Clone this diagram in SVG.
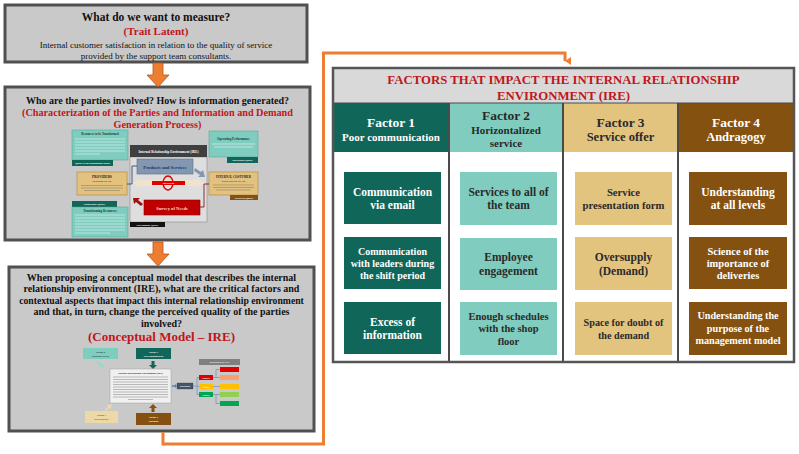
<svg xmlns="http://www.w3.org/2000/svg" width="799" height="454" viewBox="0 0 799 454">
<style>
text{font-family:"Liberation Serif","Times New Roman",serif;text-anchor:middle}
.panel{fill:#c9c9c9;stroke:#505050;stroke-width:3}
.q{font-size:10px;font-weight:bold;fill:#111}
.red{font-weight:bold;fill:#c0161c}
.reg{font-size:9px;fill:#111}
.blk{fill:#ed7d31;stroke:#b5581c;stroke-width:0.8}
.conn{fill:none;stroke:#ed7d31;stroke-width:3}
.f1{fill:#11665a}.f2{fill:#80ccbe}.f3{fill:#e3c47f}.f4{fill:#845110}
.hw{font-weight:bold;fill:#fff}.hd{font-weight:bold;fill:#2a2a2a}
.div{stroke:#4a4a4a;stroke-width:2}
.tl{stroke:#fff;stroke-width:0.6;opacity:0.8}
.dl{stroke:#666;stroke-width:0.5;opacity:0.8}
.tiny{font-family:"Liberation Serif",serif;font-weight:bold}
</style>
<defs>
<marker id="ah" markerWidth="8" markerHeight="8" refX="4" refY="6" orient="auto" markerUnits="userSpaceOnUse" viewBox="0 0 8 8">
<path d="M0,0 L8,0 L4,6 Z" fill="#ed7d31"/>
</marker>
</defs>

<!-- Panel 1 -->
<g id="box-measure">
<rect class="panel" x="5" y="5" width="302" height="57"/>
<text x="156" y="21" class="q" style="font-size:11.5px">What do we want to measure?</text>
<text x="156" y="35" class="red" style="font-size:11px">(Trait Latent)</text>
<text x="156" y="48" class="reg">Internal customer satisfaction in relation to the quality of service</text>
<text x="156" y="58.5" class="reg">provided by the support team consultants.</text>
</g>

<!-- Panel 2 -->
<g id="box-parties">
<rect class="panel" x="5" y="87" width="305" height="153"/>
<text x="157.5" y="104" class="q">Who are the parties involved? How is information generated?</text>
<text x="157.5" y="116" class="red" style="font-size:10.2px">(Characterization  of the Parties and Information and Demand</text>
<text x="157.5" y="128" class="red" style="font-size:10.2px">Generation Process)</text>
<!-- thumbnail -->
<g id="thumb-ire">
<rect x="72" y="130" width="56" height="30" fill="#7fcdbf" stroke="#4f9e91" stroke-width="0.5"/>
<text x="100" y="135" class="tiny" style="font-size:3px" fill="#1a3d36">Resources to be Transformed</text>
<line class="tl" x1="75" y1="139" x2="125" y2="139"/><line class="tl" x1="75" y1="142" x2="125" y2="142"/><line class="tl" x1="75" y1="145" x2="125" y2="145"/><line class="tl" x1="75" y1="148" x2="125" y2="148"/><line class="tl" x1="75" y1="151" x2="125" y2="151"/><line class="tl" x1="75" y1="154" x2="100" y2="154"/>
<rect x="72" y="160" width="41" height="6" fill="#11665a"/>
<text x="92.5" y="164" class="tiny" style="font-size:2.4px" fill="#fff">Quality of the Management Model</text>

<rect x="209" y="131" width="49" height="26" fill="#7fcdbf" stroke="#4f9e91" stroke-width="0.5"/>
<text x="233.5" y="140" class="tiny" style="font-size:3.2px" fill="#1a3d36">Operating Performance</text>
<line class="tl" x1="212" y1="144" x2="255" y2="144"/><line class="tl" x1="214" y1="147" x2="253" y2="147"/>
<rect x="227" y="157" width="31" height="6" fill="#11665a"/>
<text x="242.5" y="161" class="tiny" style="font-size:2.4px" fill="#fff">Operational Quality</text>

<rect x="130" y="157" width="77" height="65" fill="#dedede" stroke="#8a8a8a" stroke-width="0.6"/>
<rect x="130" y="145" width="77" height="12" fill="#3f3f3f"/>
<text x="168.5" y="152.5" class="tiny" style="font-size:3.4px" fill="#fff">Internal Relationship Environment (IRE)</text>
<rect x="130" y="222" width="35" height="5" fill="#111"/>
<text x="147.5" y="225.6" class="tiny" style="font-size:2.4px" fill="#fff">Environment Quality</text>

<polygon points="133,183 140,178 140,180 197,180 197,178 204,183 197,188 197,186 140,186 140,188" fill="#efe3cd"/>
<rect x="137" y="159" width="56" height="15" fill="#8497b0" stroke="#5a6d8a" stroke-width="0.6"/>
<text x="165" y="168.5" class="tiny" style="font-size:4.6px" fill="#1f3864">Products and Services</text>
<ellipse cx="168" cy="183" rx="5" ry="7" fill="none" stroke="#e00000" stroke-width="1.4"/>
<rect x="152" y="181" width="33" height="4" fill="#e00000"/>
<text x="168.5" y="184" class="tiny" style="font-size:2.4px" fill="#fff">Interaction</text>
<rect x="144" y="200" width="56" height="15" fill="#c00000" stroke="#8a0000" stroke-width="0.6"/>
<text x="172" y="209.5" class="tiny" style="font-size:4.6px" fill="#f2dcdb">Survey of Needs</text>
<polygon points="195,168 201,172 203,170 205,177 198,177 200,175 194,171" fill="#8497b0"/>
<polygon points="133,198 140,198 138,200 143,204 141,206 136,202 134,204" fill="#a01010"/>

<rect x="77" y="172" width="50" height="23" fill="#e2c27e" stroke="#a8853e" stroke-width="0.6"/>
<text x="102" y="178" class="tiny" style="font-size:3.4px" fill="#222">PROVIDERS</text>
<text x="102" y="182" class="tiny" style="font-size:2.4px" fill="#c00000">SUPPORT TEAM</text>
<line class="dl" x1="81" y1="185.5" x2="123" y2="185.5"/><line class="dl" x1="81" y1="188" x2="123" y2="188"/><line class="dl" x1="84" y1="190.5" x2="120" y2="190.5"/>

<rect x="209" y="172" width="49" height="23" fill="#e2c27e" stroke="#a8853e" stroke-width="0.6"/>
<text x="233.5" y="177.5" class="tiny" style="font-size:3.1px" fill="#222">INTERNAL COSTUMER</text>
<text x="233.5" y="181.5" class="tiny" style="font-size:2.4px" fill="#c00000">OPERATIONS TEAM</text>
<line class="dl" x1="213" y1="185" x2="254" y2="185"/><line class="dl" x1="213" y1="187.5" x2="254" y2="187.5"/><line class="dl" x1="216" y1="190" x2="251" y2="190"/>
<rect x="230" y="195" width="28" height="5" fill="#845110"/>
<text x="244" y="198.6" class="tiny" style="font-size:2.4px" fill="#fff">Perceived Quality</text>

<rect x="72" y="201" width="45" height="6" fill="#11665a"/>
<text x="94.5" y="205" class="tiny" style="font-size:2.4px" fill="#fff">Transformer Quality</text>
<rect x="72" y="207" width="56" height="30" fill="#7fcdbf" stroke="#4f9e91" stroke-width="0.5"/>
<text x="100" y="211.5" class="tiny" style="font-size:3.2px" fill="#1a3d36">Transforming Resources</text>
<line class="tl" x1="75" y1="215" x2="125" y2="215"/><line class="tl" x1="75" y1="218" x2="125" y2="218"/><line class="tl" x1="75" y1="221" x2="125" y2="221"/><line class="tl" x1="75" y1="224" x2="125" y2="224"/><line class="tl" x1="75" y1="227" x2="125" y2="227"/><line class="tl" x1="75" y1="230" x2="125" y2="230"/><line class="tl" x1="75" y1="233" x2="110" y2="233"/>

<polyline points="127,184 132,184 132,166 137,166" fill="none" stroke="#1f3864" stroke-width="0.8"/>
<polyline points="200,207 204,207 204,184 209,184" fill="none" stroke="#7b0000" stroke-width="0.8"/>
</g>
</g>

<!-- Panel 3 -->
<g id="box-model">
<rect class="panel" x="9" y="267" width="305" height="164"/>
<text x="161.5" y="280.5" class="q">When proposing a conceptual model that describes the internal</text>
<text x="161.5" y="292" class="q">relationship environment (IRE), what are the critical factors and</text>
<text x="161.5" y="303.5" class="q" style="font-size:9.7px">contextual aspects that impact this internal relationship environment</text>
<text x="161.5" y="315" class="q">and that, in turn, change the perceived quality of the parties</text>
<text x="161.5" y="327" class="q">involved?</text>
<text x="161.5" y="341" class="red" style="font-size:13px">(Conceptual Model – IRE)</text>
<g id="thumb-model">
<rect x="83" y="348" width="35" height="11" fill="#7fcdbf"/>
<text x="100.5" y="352.8" class="tiny" style="font-size:2.6px" fill="#1a3d36">Factor 2</text>
<text x="100.5" y="356.5" class="tiny" style="font-size:2.2px" fill="#1a3d36">Horizontal service</text>
<rect x="136" y="348" width="35" height="11" fill="#11665a"/>
<text x="153.5" y="352.8" class="tiny" style="font-size:2.6px" fill="#fff">Factor 1</text>
<text x="153.5" y="356.5" class="tiny" style="font-size:2.2px" fill="#fff">Poor communication</text>
<polygon points="151.5,361 154.5,361 154.5,365 157,365 153,369 149,365 151.5,365" fill="#11665a"/>
<polygon points="96,360 101,364 102.5,362.5 104,368 98.5,366.5 100,365 95,361" fill="#9ad7cc"/>
<rect x="110" y="369" width="61" height="34" fill="#f0f0f0" stroke="#a0a0a0" stroke-width="0.5"/>
<text x="140.5" y="374" class="tiny" style="font-size:2.5px" fill="#222">Internal Relationship Environment (IRE)</text>
<line class="dl" x1="113" y1="377" x2="168" y2="377"/><line class="dl" x1="113" y1="379.5" x2="168" y2="379.5"/><line class="dl" x1="113" y1="382" x2="168" y2="382"/><line class="dl" x1="113" y1="384.5" x2="168" y2="384.5"/><line class="dl" x1="113" y1="387" x2="168" y2="387"/><line class="dl" x1="113" y1="389.5" x2="168" y2="389.5"/><line class="dl" x1="113" y1="392" x2="168" y2="392"/><line class="dl" x1="113" y1="394.5" x2="168" y2="394.5"/><line class="dl" x1="113" y1="397" x2="168" y2="397"/><line class="dl" x1="128" y1="399.5" x2="153" y2="399.5"/>
<polygon points="105,410 108,407 106.5,405.5 112,404 110.5,409.5 109,408 106,411" fill="#ecd9a6"/>
<rect x="85" y="411" width="33" height="12" fill="#ecd9a6"/>
<text x="101.5" y="416" class="tiny" style="font-size:2.6px" fill="#6b5320">Factor 3</text>
<text x="101.5" y="420" class="tiny" style="font-size:2.2px" fill="#6b5320">Service delivery</text>
<polygon points="151.5,412 154.5,412 154.5,408 157,408 153,404 149,408 151.5,408" fill="#845110"/>
<rect x="136" y="413" width="35" height="12" fill="#845110"/>
<text x="153.5" y="418" class="tiny" style="font-size:2.6px" fill="#fff">Factor 4</text>
<text x="153.5" y="422" class="tiny" style="font-size:2.2px" fill="#fff">Andragogy</text>
<polygon points="172,385.3 175,385.3 175,384 177,386 175,388 175,386.7 172,386.7" fill="#5b7bb5"/>
<rect x="177" y="383" width="16" height="6" fill="#44546a" stroke="#2b3a55" stroke-width="0.3"/>
<text x="185" y="387" class="tiny" style="font-size:2.2px" fill="#fff">Perception</text>
<rect x="199" y="359" width="41" height="6" fill="#7f7f7f"/>
<text x="219.5" y="363" class="tiny" style="font-size:2.2px" fill="#fff">RESPONSE SCALE</text>
<g fill="none" stroke="#4a7ab5" stroke-width="0.5">
<polyline points="193,386 197,386"/><polyline points="199,377.5 197,377.5 197,394.5 199,394.5"/><polyline points="197,386.5 199,386.5"/>
<polyline points="220,369.5 216,369.5 216,377.5 220,377.5"/><polyline points="213,377.5 216,377.5"/>
<polyline points="213,386.5 220,386.5"/>
<polyline points="220,394.5 216,394.5 216,403.5 220,403.5"/><polyline points="213,394.5 216,394.5"/>
</g>
<rect x="199" y="375" width="14" height="5" fill="#e00000"/>
<text x="206" y="378.5" class="tiny" style="font-size:2px" fill="#fff">Negative</text>
<rect x="199" y="384" width="14" height="5" fill="#ffc000"/>
<text x="206" y="387.5" class="tiny" style="font-size:2px" fill="#fff">Neutral</text>
<rect x="199" y="392" width="14" height="5" fill="#00a651"/>
<text x="206" y="395.5" class="tiny" style="font-size:2px" fill="#fff">Positive</text>
<rect x="220" y="367" width="19" height="5" fill="#e00000"/>
<rect x="220" y="375" width="19" height="5" fill="#f4a070"/>
<rect x="220" y="384" width="19" height="5" fill="#ffc000"/>
<rect x="220" y="392" width="19" height="5" fill="#92d050"/>
<rect x="220" y="401" width="19" height="5" fill="#00a651"/>
</g>
</g>

<!-- Factors table -->
<g id="table-factors">
<rect x="333" y="68" width="461" height="294" fill="#fff"/>
<rect x="333" y="68" width="461" height="35" fill="#d9d9d9"/>
<text x="563.5" y="83.5" class="red" style="font-size:12.8px">FACTORS THAT IMPACT THE INTERNAL RELATIONSHIP</text>
<text x="563.5" y="99.5" class="red" style="font-size:12.8px">ENVIRONMENT (IRE)</text>
</g>

<g id="factor1">
<rect class="f1" x="333" y="103" width="116" height="49"/>
<text x="391" y="126.5" class="hw" style="font-size:13.5px">Factor 1</text>
<text x="391" y="141" class="hw" style="font-size:11px">Poor communication</text>
<rect class="f1" x="344" y="172" width="97" height="52"/>
<text x="392.5" y="195.5" class="hw" style="font-size:11.5px">Communication</text>
<text x="392.5" y="209" class="hw" style="font-size:11.5px">via email</text>
<rect class="f1" x="344" y="237" width="97" height="52"/>
<text x="392.5" y="254.5" class="hw" style="font-size:10px">Communication</text>
<text x="392.5" y="266.5" class="hw" style="font-size:10px">with leaders during</text>
<text x="392.5" y="278.5" class="hw" style="font-size:10px">the shift period</text>
<rect class="f1" x="344" y="302" width="97" height="52"/>
<text x="392.5" y="325.5" class="hw" style="font-size:11.5px">Excess of</text>
<text x="392.5" y="339" class="hw" style="font-size:11.5px">information</text>
</g>

<g id="factor2">
<rect class="f2" x="449" y="103" width="114" height="49"/>
<text x="506" y="119.5" class="hd" style="font-size:13.5px">Factor 2</text>
<text x="506" y="134" class="hd" style="font-size:11px">Horizontalized</text>
<text x="506" y="147" class="hd" style="font-size:11px">service</text>
<rect class="f2" x="460" y="172" width="97" height="53"/>
<text x="508.5" y="195.5" class="hd" style="font-size:11.5px">Services to all of</text>
<text x="508.5" y="209" class="hd" style="font-size:11.5px">the team</text>
<rect class="f2" x="460" y="238" width="97" height="52"/>
<text x="508.5" y="261" class="hd" style="font-size:11.5px">Employee</text>
<text x="508.5" y="274.5" class="hd" style="font-size:11.5px">engagement</text>
<rect class="f2" x="460" y="302" width="97" height="53"/>
<text x="508.5" y="319.5" class="hd" style="font-size:10.5px">Enough schedules</text>
<text x="508.5" y="332" class="hd" style="font-size:10.5px">with the shop</text>
<text x="508.5" y="344.5" class="hd" style="font-size:10.5px">floor</text>
</g>

<g id="factor3">
<rect class="f3" x="563" y="103" width="115" height="49"/>
<text x="620.5" y="126.5" class="hd" style="font-size:13.5px">Factor 3</text>
<text x="620.5" y="141" class="hd" style="font-size:12.5px">Service offer</text>
<rect class="f3" x="575" y="172" width="97" height="53"/>
<text x="623.5" y="196" class="hd" style="font-size:10.7px">Service</text>
<text x="623.5" y="209" class="hd" style="font-size:10.7px">presentation form</text>
<rect class="f3" x="575" y="237" width="97" height="53"/>
<text x="623.5" y="261" class="hd" style="font-size:11.5px">Oversupply</text>
<text x="623.5" y="274.5" class="hd" style="font-size:11.5px">(Demand)</text>
<rect class="f3" x="575" y="302" width="97" height="53"/>
<text x="623.5" y="326" class="hd" style="font-size:10.2px">Space for doubt of</text>
<text x="623.5" y="338.5" class="hd" style="font-size:10.2px">the demand</text>
</g>

<g id="factor4">
<rect class="f4" x="678" y="103" width="116" height="49"/>
<text x="736" y="126.5" class="hw" style="font-size:13.5px">Factor 4</text>
<text x="736" y="141" class="hw" style="font-size:12.5px">Andragogy</text>
<rect class="f4" x="689" y="172" width="98" height="53"/>
<text x="738" y="195.5" class="hw" style="font-size:11.5px">Understanding</text>
<text x="738" y="209" class="hw" style="font-size:11.5px">at all levels</text>
<rect class="f4" x="689" y="237" width="98" height="52"/>
<text x="738" y="254.5" class="hw" style="font-size:10.5px">Science of the</text>
<text x="738" y="266.5" class="hw" style="font-size:10.5px">importance of</text>
<text x="738" y="278.5" class="hw" style="font-size:10.5px">deliveries</text>
<rect class="f4" x="689" y="302" width="98" height="53"/>
<text x="738" y="319" class="hw" style="font-size:10.2px">Understanding the</text>
<text x="738" y="331.5" class="hw" style="font-size:10.2px">purpose of the</text>
<text x="738" y="344" class="hw" style="font-size:10.2px">management model</text>
</g>

<g id="table-lines">
<line class="div" x1="449" y1="103" x2="449" y2="362"/>
<line class="div" x1="563" y1="103" x2="563" y2="362"/>
<line class="div" x1="678" y1="103" x2="678" y2="362"/>
<line stroke="#4a4a4a" stroke-width="1" x1="333" y1="103" x2="794" y2="103"/>
<rect x="333" y="68" width="461" height="294" fill="none" stroke="#555" stroke-width="2.5"/>
</g>

<!-- Connectors -->
<g id="connectors">
<polygon class="blk" points="153,63 163,63 163,75 169,75 158,87 147,75 153,75"/>
<polygon class="blk" points="153,242 163,242 163,254 169,254 158,266 147,254 153,254"/>
<path class="conn" d="M163,432 V444 H323.5 V53 H565 V61" marker-end="url(#ah)"/>
</g>
</svg>
